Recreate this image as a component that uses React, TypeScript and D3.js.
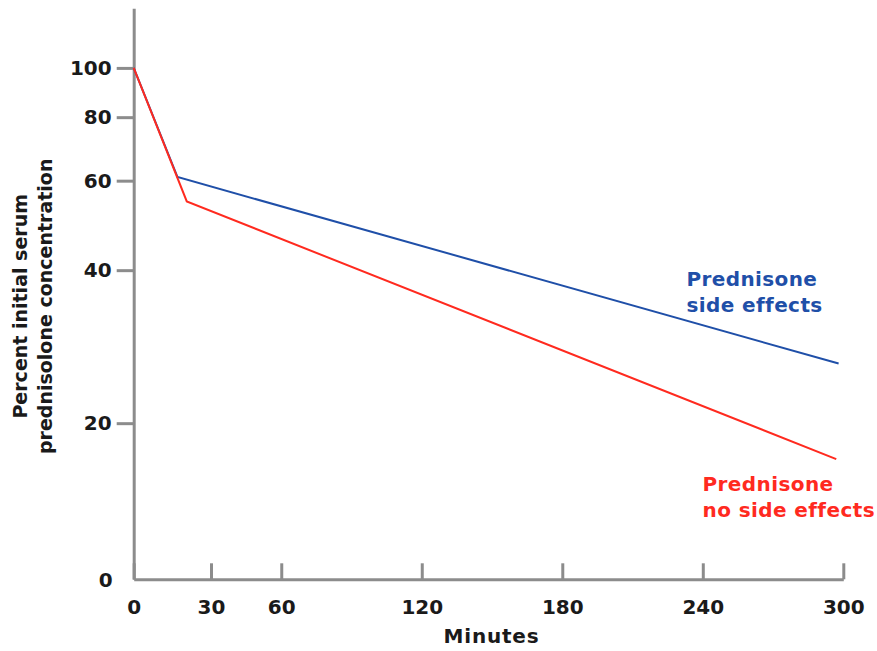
import React, { useRef, useEffect } from "react";
import * as d3 from "d3";

// x axis ticks (minutes) and y axis ticks (percent, log scale)
const MINUTE_TICKS = [0, 30, 60, 120, 180, 240, 300];
const PERCENT_TICKS = [100, 80, 60, 40, 20];

// Prednisone, side effects (blue)
const SIDE_MIN = [0, 17, 298];
const SIDE_PCT = [100, 61, 26.2];

// Prednisone, no side effects (red)
const NOSIDE_MIN = [0, 20.6, 297];
const NOSIDE_PCT = [100, 54.6, 17];

const BLUE = "#1f4fa8";
const RED = "#ff2a1f";
const AXIS = "#8c8c8c";
const INK = "#1a1a1a";
const FONT = "'DejaVu Sans', Verdana, sans-serif";

export default function App() {
  const svgRef = useRef<SVGSVGElement>(null);
  const width = 877;
  const height = 651;

  useEffect(() => {
    if (!svgRef.current) return;
    const svg = d3.select(svgRef.current);
    svg.selectAll("*").remove();

    const margin = { top: 8.3, right: 33.7, bottom: 71.7, left: 133.7 };
    const w = width - margin.left - margin.right;
    const h = height - margin.top - margin.bottom;

    const g = svg
      .append("g")
      .attr("transform", `translate(${margin.left},${margin.top})`);

    // the first 30 minutes are drawn a bit wider in the original
    const x = d3
      .scaleLinear()
      .domain([0, 30, 300])
      .range([0, (w * 77.3) / 709.6, w]);
    const y = d3.scaleLog().domain([9.86, 131]).range([h, 0]);

    const boldText = (sel: any, size: number, spacing = 0) =>
      sel
        .style("font-family", FONT)
        .style("font-weight", "bold")
        .style("font-size", `${size}px`)
        .style("letter-spacing", `${spacing}px`);

    // y axis
    const yAxis = d3
      .axisLeft(y)
      .tickValues(PERCENT_TICKS)
      .tickFormat((d) => `${d}`)
      .tickSizeInner(17)
      .tickSizeOuter(0)
      .tickPadding(5);
    const yg = g.append("g").call(yAxis);
    yg.select(".domain").attr("stroke", AXIS).attr("stroke-width", 3);
    yg.selectAll(".tick line").attr("stroke", AXIS).attr("stroke-width", 3);
    boldText(yg.selectAll(".tick text"), 20).attr("fill", INK);

    // "0" at the foot of the y axis
    boldText(g.append("text"), 20)
      .attr("x", -21)
      .attr("y", y(9.86))
      .attr("dy", "0.4em")
      .attr("text-anchor", "end")
      .attr("fill", INK)
      .text("0");

    // x axis, ticks pointing up
    const xAxis = d3
      .axisBottom(x)
      .tickValues(MINUTE_TICKS)
      .tickFormat((d) => `${d}`)
      .tickSizeInner(-16)
      .tickSizeOuter(0)
      .tickPadding(21);
    const xg = g.append("g").attr("transform", `translate(0,${h})`).call(xAxis);
    xg.select(".domain").attr("stroke", AXIS).attr("stroke-width", 3);
    xg.selectAll(".tick line").attr("stroke", AXIS).attr("stroke-width", 3);
    boldText(xg.selectAll(".tick text"), 20).attr("fill", INK);

    // axis titles
    boldText(g.append("text"), 20, 0.8)
      .attr("x", (x(0) + x(300)) / 2 + 3)
      .attr("y", h + 64)
      .attr("text-anchor", "middle")
      .attr("fill", INK)
      .text("Minutes");

    const yTitle = boldText(g.append("text"), 19)
      .attr("transform", "rotate(-90)")
      .attr("text-anchor", "middle")
      .attr("fill", INK);
    yTitle
      .append("tspan")
      .attr("x", -298)
      .attr("y", -107)
      .text("Percent initial serum");
    yTitle
      .append("tspan")
      .attr("x", -298)
      .attr("y", -82)
      .text("prednisolone concentration");

    // lines
    const line = d3
      .line<[number, number]>()
      .x((d) => x(d[0]))
      .y((d) => y(d[1]));

    const series = [
      { t: SIDE_MIN, v: SIDE_PCT, color: BLUE },
      { t: NOSIDE_MIN, v: NOSIDE_PCT, color: RED },
    ];
    series.forEach((s) => {
      const pts = s.t.map((t, i) => [t, s.v[i]] as [number, number]);
      g.append("path")
        .datum(pts)
        .attr("d", line)
        .attr("fill", "none")
        .attr("stroke", s.color)
        .attr("stroke-width", 2);
    });

    // labels next to the lines
    const label = (lines: string[], color: string, px: number, py: number) => {
      const t = boldText(g.append("text"), 20, 0.4).attr("fill", color);
      lines.forEach((l, i) => {
        t.append("tspan")
          .attr("x", px)
          .attr("y", py + i * 25.5)
          .text(l);
      });
    };
    label(["Prednisone", "side effects"], BLUE, x(233), y(37.2));
    label(["Prednisone", "no side effects"], RED, x(239.9), y(14.7));
  }, []);

  return (
    <>
      <style>{`body{margin:0}`}</style>
      <svg
        ref={svgRef}
        width={width}
        height={height}
        viewBox={`0 0 ${width} ${height}`}
        style={{ display: "block", background: "#fff" }}
      />
    </>
  );
}
